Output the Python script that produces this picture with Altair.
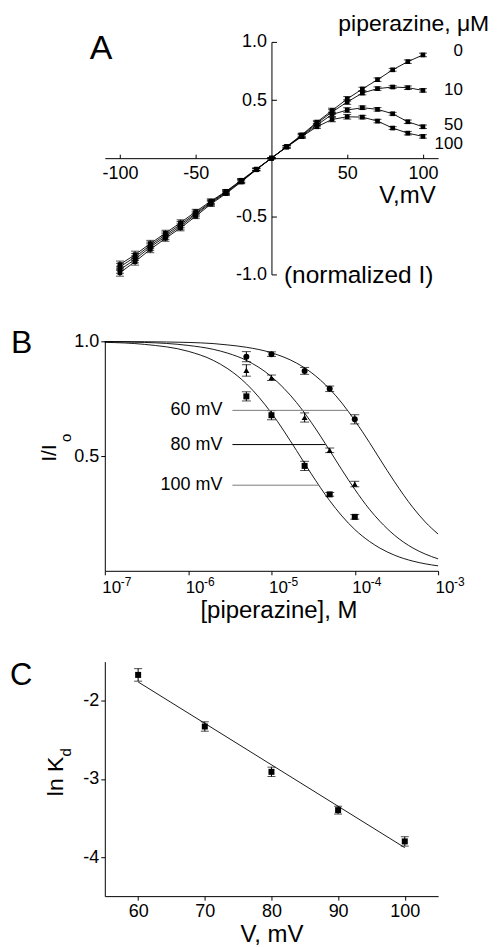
import altair as alt
import pandas as pd

FONT = "Liberation Sans"

# ---------------- Panel A : I-V curves ----------------
a_voltage = [-100, -90, -80, -70, -60, -50, -40, -30, -20, -10, 0,
             10, 20, 30, 40, 50, 60, 70, 80, 90, 100]
a_conc_labels = ["0", "10", "50", "100"]
a_current_0 = [-0.985, -0.89, -0.785, -0.69, -0.60, -0.50, -0.395, -0.305, -0.205, -0.10, 0.0,
               0.10, 0.20, 0.31, 0.41, 0.51, 0.595, 0.675, 0.76, 0.83, 0.888]
a_current_10 = [-0.96, -0.87, -0.765, -0.675, -0.585, -0.485, -0.385, -0.298, -0.20, -0.098, 0.0,
                0.098, 0.195, 0.30, 0.397, 0.483, 0.56, 0.598, 0.612, 0.606, 0.583]
a_current_50 = [-0.935, -0.85, -0.75, -0.66, -0.57, -0.475, -0.378, -0.29, -0.195, -0.096, 0.0,
                0.097, 0.19, 0.285, 0.376, 0.414, 0.434, 0.42, 0.382, 0.313, 0.27]
a_current_100 = [-0.915, -0.83, -0.735, -0.645, -0.555, -0.46, -0.37, -0.285, -0.19, -0.094, 0.0,
                 0.095, 0.185, 0.27, 0.333, 0.356, 0.353, 0.319, 0.259, 0.215, 0.187]
a_error = [0.03, 0.03, 0.028, 0.025, 0.025, 0.02, 0.02, 0.015, 0.015, 0.01, 0.005,
           0.01, 0.015, 0.015, 0.02, 0.02, 0.015, 0.015, 0.012, 0.015, 0.015]
a_x_ticks = [-100, -50, 50, 100]
a_y_ticks = [-1.0, -0.5, 0.5, 1.0]

# ---------------- Panel B : dose-response ----------------
b_voltages = ["60 mV", "80 mV", "100 mV"]
b_conc = [5e-6, 1e-5, 2.5e-5, 5e-5, 1e-4]
b_resp_60 = [0.933, 0.944, 0.871, 0.793, 0.660]
b_err_60 = [0.022, 0.010, 0.015, 0.012, 0.020]
b_resp_80 = [0.873, 0.841, 0.668, 0.525, 0.378]
b_err_80 = [0.025, 0.012, 0.020, 0.010, 0.012]
b_resp_100 = [0.760, 0.678, 0.457, 0.333, 0.235]
b_err_100 = [0.020, 0.020, 0.020, 0.008, 0.010]
b_fit_conc = [1e-7, 3e-7, 1e-6, 2e-6, 3e-6, 5e-6, 1e-5, 2e-5, 3e-5, 5e-5, 7e-5,
              1e-4, 1.5e-4, 2e-4, 3e-4, 5e-4, 7e-4, 1e-3]
b_fit_60 = [0.999, 0.998, 0.995, 0.990, 0.984, 0.974, 0.950, 0.905, 0.864, 0.792, 0.731,
            0.655, 0.559, 0.487, 0.388, 0.275, 0.213, 0.160]
b_fit_80 = [0.998, 0.995, 0.982, 0.965, 0.948, 0.917, 0.846, 0.733, 0.647, 0.524, 0.440,
            0.355, 0.268, 0.216, 0.155, 0.099, 0.073, 0.052]
b_fit_100 = [0.9955, 0.9865, 0.9565, 0.917, 0.880, 0.815, 0.6875, 0.524, 0.423, 0.3055, 0.239,
             0.180, 0.128, 0.099, 0.068, 0.042, 0.0305, 0.0215]
b_label_level = [0.699, 0.550, 0.373]
b_label_start = [3.4e-6, 3.4e-6, 3.4e-6]
b_label_end = [8.1e-5, 4.46e-5, 3.7e-5]
b_x_ticks = [1e-7, 1e-6, 1e-5, 1e-4, 1e-3]
b_x_tick_base = "10"
b_x_tick_exponents = ["-7", "-6", "-5", "-4", "-3"]
b_y_ticks = [0.5, 1.0]

# ---------------- Panel C : ln Kd vs V ----------------
c_voltage = [60, 70, 80, 90, 100]
c_ln_kd = [-1.67, -2.33, -2.91, -3.40, -3.80]
c_err = [0.08, 0.06, 0.06, 0.05, 0.06]
c_fit_voltage = [60, 100]
c_fit_ln_kd = [-1.76, -3.88]
c_x_ticks = [60, 70, 80, 90, 100]
c_y_ticks = [-2, -3, -4]

# ---------------- tables ----------------
rows = []
for conc, vals in zip(a_conc_labels, [a_current_0, a_current_10, a_current_50, a_current_100]):
    for v, i, e in zip(a_voltage, vals, a_error):
        rows.append({"V": v, "I": i, "lo": i - e, "hi": i + e, "conc": conc})
df_a = pd.DataFrame(rows)

rows = []
for volt, vals, errs in zip(b_voltages, [b_resp_60, b_resp_80, b_resp_100],
                            [b_err_60, b_err_80, b_err_100]):
    for c, r, e in zip(b_conc, vals, errs):
        rows.append({"c": c, "r": r, "lo": r - e, "hi": r + e, "volt": volt})
df_b = pd.DataFrame(rows)

rows = []
for volt, vals in zip(b_voltages, [b_fit_60, b_fit_80, b_fit_100]):
    for c, r in zip(b_fit_conc, vals):
        rows.append({"c": c, "r": r, "volt": volt})
df_b_fit = pd.DataFrame(rows)

df_b_lab = pd.DataFrame({"start": b_label_start, "end": b_label_end,
                         "level": b_label_level, "volt": b_voltages})
df_b_exp = pd.DataFrame({"c": b_x_ticks, "e": b_x_tick_exponents})

df_c = pd.DataFrame({"V": c_voltage, "k": c_ln_kd,
                     "lo": [k - e for k, e in zip(c_ln_kd, c_err)],
                     "hi": [k + e for k, e in zip(c_ln_kd, c_err)]})
df_c_fit = pd.DataFrame({"V": c_fit_voltage, "k": c_fit_ln_kd})

W = 334
HA, HB, HC = 233, 230, 235


def hyphen_expr(fmt):
    return (f"datum.value < 0 ? '-' + format(-datum.value, '{fmt}') "
            f": format(datum.value, '{fmt}')")


def text_chart(txt, x, y, size, align="left", angle=0):
    return alt.Chart(pd.DataFrame({"t": [txt]})).mark_text(
        align=align, baseline="alphabetic", fontSize=size, angle=angle, color="black"
    ).encode(x=alt.value(x), y=alt.value(y), text="t:N")


# ---------------- Panel A chart ----------------
axis_xA = alt.Axis(orient="top", offset=-HA / 2, values=a_x_ticks, labelExpr=hyphen_expr("d"),
                   tickSize=4, labelPadding=-24, labelBaseline="alphabetic", labelFontSize=18,
                   labelFlush=False, labelOverlap=False, title="V,mV", titleFontSize=24,
                   titleX=331, titleY=44, titleAlign="right", titleBaseline="alphabetic")
axis_yA = alt.Axis(orient="right", offset=-W / 2, values=a_y_ticks, labelExpr=hyphen_expr(".1f"),
                   tickSize=5, labelAlign="right", labelPadding=-10, labelBaseline="middle",
                   labelFontSize=18, labelFlush=False, labelOverlap=False,
                   title="(normalized I)", titleFontSize=24.5, titleAngle=0, titleX=12, titleY=241,
                   titleAlign="left", titleBaseline="alphabetic")


def xA():
    return alt.X("V:Q", scale=alt.Scale(domain=[-110, 110], nice=False, zero=False), axis=axis_xA)


def yA(field):
    return alt.Y(f"{field}:Q", scale=alt.Scale(domain=[-1, 1], nice=False, zero=False),
                 axis=axis_yA)


a_line = alt.Chart(df_a).mark_line(color="black", strokeWidth=0.9).encode(
    x=xA(), y=yA("I"), detail="conc:N")
a_err = alt.Chart(df_a).mark_errorbar(ticks=True, size=8, thickness=1, color="black").encode(
    x=xA(), y=yA("lo"), y2="hi:Q")
a_pts = alt.Chart(df_a).mark_square(size=22, color="black", opacity=1).encode(x=xA(), y=yA("I"))

a_last = df_a[df_a["V"] == 100]
a_label_dy = {"0": -4, "10": 0, "50": -2, "100": 8}
a_labels = [
    alt.Chart(a_last[a_last["conc"] == c]).mark_text(
        align="right", baseline="middle", dx=40, dy=a_label_dy[c], fontSize=17, color="black"
    ).encode(x=xA(), y=yA("I"), text="conc:N")
    for c in a_conc_labels
]

panel_a = alt.layer(
    a_line, a_err, a_pts, *a_labels,
    text_chart("A", -15, 17, 34),
    text_chart("piperazine, μM", 234, -11, 23),
).properties(width=W, height=HA)

# ---------------- Panel B chart ----------------
axis_xB = alt.Axis(values=b_x_ticks, labelExpr=f"'{b_x_tick_base}'", tickSize=4, labelPadding=18,
                   labelBaseline="alphabetic", labelAlign="left", labelOffset=-3, labelFontSize=17,
                   labelFlush=False, labelOverlap=False, title="[piperazine], M",
                   titleFontSize=24, titleX=174, titleY=47, titleAlign="center",
                   titleBaseline="alphabetic")
axis_yB = alt.Axis(values=b_y_ticks, labelExpr=hyphen_expr(".1f"), tickSize=4, labelPadding=2,
                   labelFontSize=18, labelFlush=False, labelOverlap=False, title=None)


def xB(field):
    return alt.X(f"{field}:Q", scale=alt.Scale(type="log", domain=[1e-7, 1e-3], nice=False),
                 axis=axis_xB)


def yB(field):
    return alt.Y(f"{field}:Q", scale=alt.Scale(domain=[0, 1], nice=False, zero=False),
                 axis=axis_yB)


b_fit = alt.Chart(df_b_fit).mark_line(color="black", strokeWidth=0.9, interpolate="monotone").encode(
    x=xB("c"), y=yB("r"), detail="volt:N")
b_err = alt.Chart(df_b).mark_errorbar(ticks=True, size=9, thickness=1, color="black").encode(
    x=xB("c"), y=yB("lo"), y2="hi:Q")
b_pts = alt.Chart(df_b).mark_point(filled=True, size=36, color="black", opacity=1).encode(
    x=xB("c"), y=yB("r"),
    shape=alt.Shape("volt:N", scale=alt.Scale(domain=b_voltages,
                                              range=["circle", "triangle-up", "square"]),
                    legend=None))
b_rules = alt.Chart(df_b_lab).mark_rule(strokeWidth=1).encode(
    x=xB("start"), x2="end:Q", y=yB("level"),
    color=alt.Color("volt:N", scale=alt.Scale(domain=b_voltages,
                                              range=["#7a7a7a", "black", "#7a7a7a"]),
                    legend=None))
b_texts = alt.Chart(df_b_lab).mark_text(align="right", baseline="middle", dx=-10, fontSize=18,
                                        color="black").encode(
    x=xB("start"), y=yB("level"), text="volt:N")
b_exps = alt.Chart(df_b_exp).mark_text(align="left", baseline="alphabetic", dx=16, fontSize=12,
                                       color="black").encode(
    x=xB("c"), y=alt.value(HB + 15), text="e:N")

panel_b = alt.layer(
    b_fit, b_err, b_pts, b_rules, b_texts, b_exps,
    text_chart("B", -94, 12, 32),
    text_chart("I/I", -49, 112, 21, align="center", angle=270),
    text_chart("o", -34, 101, 15, align="left", angle=270),
).properties(width=W, height=HB)

# ---------------- Panel C chart ----------------
axis_xC = alt.Axis(values=c_x_ticks, tickSize=4, labelPadding=16, labelBaseline="alphabetic",
                   labelFontSize=18, labelFlush=False, labelOverlap=False, title="V, mV",
                   titleFontSize=24, titleX=167, titleY=45, titleAlign="center",
                   titleBaseline="alphabetic")
axis_yC = alt.Axis(values=c_y_ticks, labelExpr=hyphen_expr("d"), tickSize=4, labelPadding=2,
                   labelFontSize=18, labelFlush=False, labelOverlap=False, title=None)


def xC():
    return alt.X("V:Q", scale=alt.Scale(domain=[55, 105], nice=False, zero=False), axis=axis_xC)


def yC(field):
    return alt.Y(f"{field}:Q", scale=alt.Scale(domain=[-4.5, -1.5], nice=False, zero=False),
                 axis=axis_yC)


c_line = alt.Chart(df_c_fit).mark_line(color="black", strokeWidth=0.9).encode(
    x=xC(), y=yC("k"))
c_errs = alt.Chart(df_c).mark_errorbar(ticks=True, size=8, thickness=1, color="black").encode(
    x=xC(), y=yC("lo"), y2="hi:Q")
c_pts = alt.Chart(df_c).mark_square(size=36, color="black", opacity=1).encode(x=xC(), y=yC("k"))

panel_c = alt.layer(
    c_line, c_errs, c_pts,
    text_chart("C", -95, 23, 31),
    text_chart("ln K", -42, 115, 23, align="center", angle=270),
    text_chart("d", -34, 95, 15, align="left", angle=270),
).properties(width=W, height=HC)

chart = alt.vconcat(
    alt.vconcat(panel_a, panel_b, spacing=67, bounds="flush"),
    panel_c, spacing=37,
).properties(
    padding={"left": 2, "top": 4, "right": 0, "bottom": 0}
).configure(font=FONT).configure_view(stroke=None).configure_axis(
    grid=False, domainColor="black", tickColor="black", labelColor="black",
    titleColor="black", titleFontWeight="normal", domainWidth=1, tickWidth=1
)

chart.save("out.html", embed_options={"renderer": "svg", "actions": False})
